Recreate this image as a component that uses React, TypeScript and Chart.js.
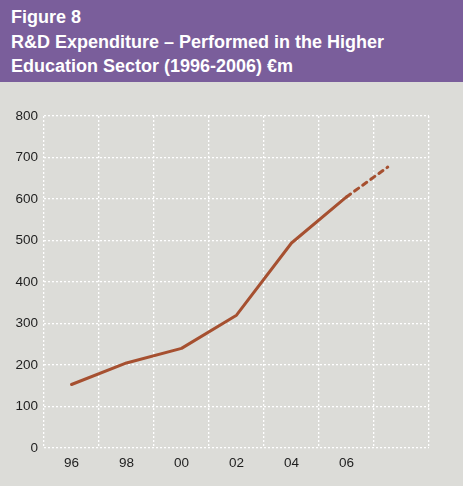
import React, { useEffect, useRef } from "react";
import { Chart, registerables } from "chart.js";

Chart.register(...registerables);

const titleLines = ["Figure 8", "R&D Expenditure – Performed in the Higher", "Education Sector (1996-2006) €m"];
const years = [1996, 1998, 2000, 2002, 2004, 2006];
const actual = [153, 205, 240, 320, 494, 605];
const projYears = [2006, 2007.5];
const projected = [605, 677];
const xLabels: Record<number, string> = { 1996: "96", 1998: "98", 2000: "00", 2002: "02", 2004: "04", 2006: "06" };
const yMin = 0;
const yMax = 800;
const yStep = 100;

const LINE = "rgb(166, 80, 48)";
const GRID = "rgba(255,255,255,1)";
const FONT = "'Liberation Sans', Arial, Helvetica, sans-serif";

export default function App() {
  const ref = useRef<HTMLCanvasElement>(null);
  useEffect(() => {
    document.body.style.margin = "0";
    const chart = new Chart(ref.current!, {
      type: "line",
      data: {
        datasets: [
          {
            data: years.map((y, i) => ({ x: y, y: actual[i] })),
            borderColor: LINE,
            borderWidth: 3,
            pointRadius: 0,
            tension: 0,
            borderCapStyle: "round",
            borderJoinStyle: "round",
          },
          {
            data: projYears.map((y, i) => ({ x: y, y: projected[i] })),
            borderColor: LINE,
            borderWidth: 3,
            borderDash: [5, 5],
            borderCapStyle: "round",
            pointRadius: 0,
            tension: 0,
          },
        ],
      },
      options: {
        animation: false,
        responsive: false,
        maintainAspectRatio: false,
        layout: { padding: { top: 16, right: 34, bottom: 0, left: 0 } },
        plugins: { legend: { display: false }, tooltip: { enabled: false }, title: { display: false } },
        scales: {
          x: {
            type: "linear",
            min: 1995,
            max: 2009,
            afterBuildTicks: (scale: any) => {
              const t = [];
              for (let v = 1995; v <= 2009; v++) t.push({ value: v });
              scale.ticks = t;
            },
            afterFit: (scale: any) => {
              scale.height = 38;
            },
            ticks: {
              autoSkip: false,
              maxRotation: 0,
              padding: 7,
              color: "#1e1e1e",
              font: { family: FONT, size: 13.5 },
              callback: (v: any) => xLabels[v] ?? "",
            },
            grid: {
              drawTicks: false,
              lineWidth: 1.3,
              color: (ctx: any) => (ctx.tick && Math.abs(ctx.tick.value) % 2 === 1 ? GRID : "rgba(0,0,0,0)"),
            },
            border: { display: false, dash: [2, 2] },
          },
          y: {
            min: yMin,
            max: yMax,
            afterFit: (scale: any) => {
              scale.width = 44;
            },
            ticks: {
              stepSize: yStep,
              padding: 6,
              color: "#1e1e1e",
              font: { family: FONT, size: 13.5 },
            },
            grid: { drawTicks: false, color: GRID, lineWidth: 1.3 },
            border: { display: false, dash: [2, 2] },
          },
        },
      },
    } as any);
    return () => chart.destroy();
  }, []);

  return (
    <div style={{ position: "absolute", left: 0, top: 0, width: 463, height: 486, background: "rgb(220,220,216)" }}>
      <div
        style={{
          position: "absolute",
          left: 0,
          top: 0,
          width: 463,
          height: 82,
          background: "rgb(122, 94, 155)",
          color: "#fff",
          fontFamily: FONT,
          fontWeight: "bold",
          fontSize: 18,
          lineHeight: "24.5px",
          paddingTop: 5,
          boxSizing: "border-box",
        }}
      >
        {titleLines.map((l, i) => (
          <div key={i} style={{ paddingLeft: 11, whiteSpace: "nowrap" }}>
            {l}
          </div>
        ))}
      </div>
      <canvas ref={ref} width={463} height={386} style={{ position: "absolute", left: 0, top: 100, width: 463, height: 386 }} />
    </div>
  );
}
